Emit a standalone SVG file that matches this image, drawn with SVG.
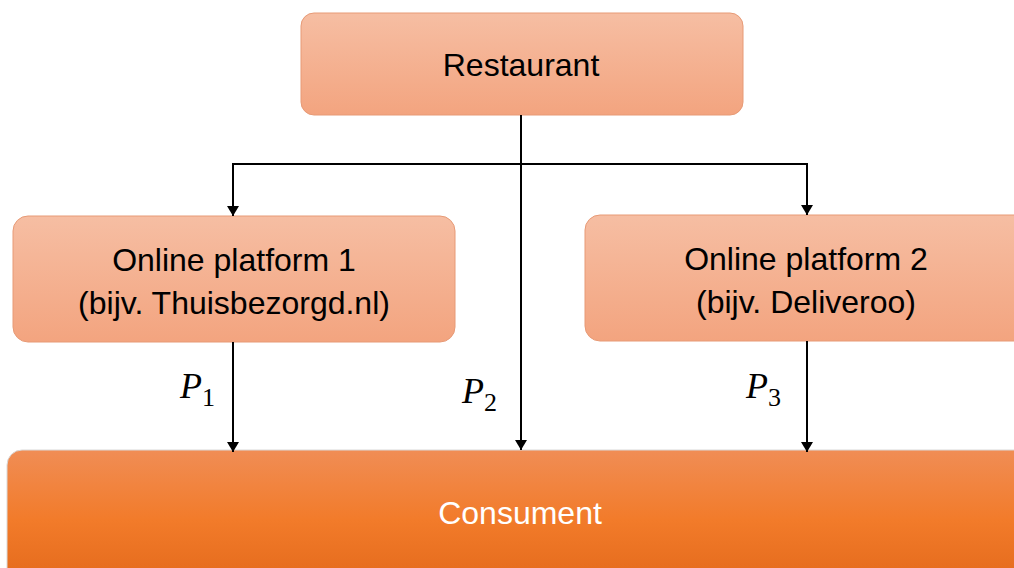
<svg xmlns="http://www.w3.org/2000/svg" width="1014" height="568" viewBox="0 0 1014 568">
<defs>
<linearGradient id="gLight" x1="0" y1="0" x2="0" y2="1">
<stop offset="0" stop-color="#F6BEA3"/>
<stop offset="1" stop-color="#F3A47F"/>
</linearGradient>
<linearGradient id="gDark" x1="0" y1="0" x2="0" y2="1">
<stop offset="0" stop-color="#F08D55"/>
<stop offset="0.5" stop-color="#F27B2A"/>
<stop offset="1" stop-color="#E2681A"/>
</linearGradient>
<marker id="arr" viewBox="0 0 10 12" refX="10" refY="6" markerWidth="10" markerHeight="12" markerUnits="userSpaceOnUse" orient="auto">
<path d="M0,0 L10,6 L0,12 Z" fill="#000"/>
</marker>
</defs>
<style>
.box{fill:url(#gLight);stroke:#E79A76;stroke-width:1}
.cons{fill:url(#gDark);stroke:#D9D9D9;stroke-width:1}
.lbl{font-family:"Liberation Sans",Arial,sans-serif;font-size:32px;fill:#000;text-anchor:middle}
.wlbl{font-family:"Liberation Sans",Arial,sans-serif;font-size:32px;fill:#fff;text-anchor:middle}
.p{font-family:"Liberation Serif","Times New Roman",serif;font-style:italic;font-size:36px;fill:#000}
.sub{font-family:"Liberation Serif","Times New Roman",serif;font-size:26px;fill:#000}
.ln{stroke:#000;stroke-width:2;fill:none}
</style>
<rect width="1014" height="568" fill="#fff"/>
<g id="restaurant">
<rect class="box" x="301" y="13" width="442" height="102" rx="13"/>
<text class="lbl" x="521" y="76">Restaurant</text>
</g>
<g id="platform1">
<rect class="box" x="13" y="216" width="442" height="126" rx="15"/>
<text class="lbl" x="234" y="271">Online platform 1</text>
<text class="lbl" x="234" y="314">(bijv. Thuisbezorgd.nl)</text>
</g>
<g id="platform2">
<rect class="box" x="585" y="215" width="445" height="126" rx="15"/>
<text class="lbl" x="806" y="270">Online platform 2</text>
<text class="lbl" x="806" y="313">(bijv. Deliveroo)</text>
</g>
<g id="consument">
<rect class="cons" x="7" y="450" width="1030" height="140" rx="15"/>
<text class="wlbl" x="520" y="524">Consument</text>
</g>
<g id="connectors">
<path class="ln" d="M521,115 V450" marker-end="url(#arr)"/>
<path class="ln" d="M233,164 H807"/>
<path class="ln" d="M233,163 V216" marker-end="url(#arr)"/>
<path class="ln" d="M807,163 V215" marker-end="url(#arr)"/>
<path class="ln" d="M233,342 V452" marker-end="url(#arr)"/>
<path class="ln" d="M807,341 V452" marker-end="url(#arr)"/>
<text class="p" x="180" y="398">P<tspan class="sub" font-style="normal" dy="8">1</tspan></text>
<text class="p" x="462" y="403">P<tspan class="sub" font-style="normal" dy="8">2</tspan></text>
<text class="p" x="746" y="398">P<tspan class="sub" font-style="normal" dy="8">3</tspan></text>
</g>
</svg>
